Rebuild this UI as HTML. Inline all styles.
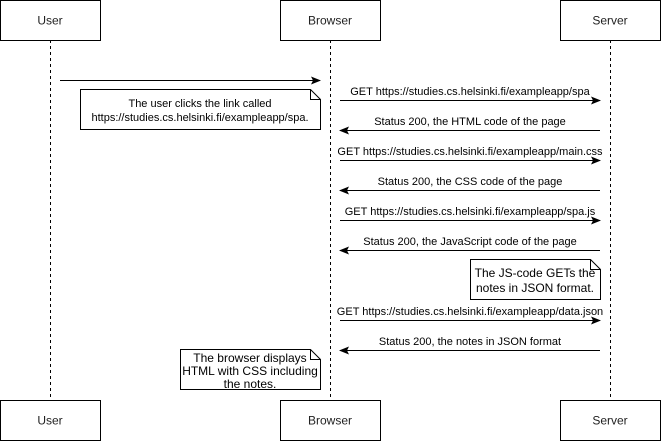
<!DOCTYPE html>
<html><head><meta charset="utf-8"><style>
html,body{margin:0;padding:0;background:#fff}
svg{display:block;font-family:"Liberation Sans",Arial,sans-serif}
</style></head><body>
<svg width="661" height="441" viewBox="0 0 661 441" xmlns="http://www.w3.org/2000/svg" font-family="Liberation Sans, Arial, sans-serif">
<defs>
<marker id="a" markerWidth="10" markerHeight="8" refX="9" refY="4" orient="auto" markerUnits="userSpaceOnUse">
<path d="M0,0 L10,4 L0,8 L2,4 Z" fill="#000"/>
</marker>
</defs>
<g stroke="#000" stroke-dasharray="3,3" stroke-width="1">
<line x1="50.5" y1="40" x2="50.5" y2="400"/>
<line x1="330.5" y1="40" x2="330.5" y2="400"/>
<line x1="610.5" y1="40" x2="610.5" y2="400"/>
</g>
<g fill="#fff" stroke="#000">
<rect x="0.5" y="0.5" width="100" height="40"/>
<rect x="280.5" y="0.5" width="100" height="40"/>
<rect x="560.5" y="0.5" width="100" height="40"/>
<rect x="0.5" y="400.5" width="100" height="40"/>
<rect x="280.5" y="400.5" width="100" height="40"/>
<rect x="560.5" y="400.5" width="100" height="40"/>
</g>
<g font-size="12" text-anchor="middle" font-family="Liberation Sans, Arial, sans-serif" fill="#222">
<text x="50" y="24.5">User</text><text x="330" y="24.5">Browser</text><text x="610" y="24.5">Server</text>
<text x="50" y="424.5">User</text><text x="330" y="424.5">Browser</text><text x="610" y="424.5">Server</text>
</g>
<g stroke="#000" stroke-width="1" marker-end="url(#a)">
<line x1="60" y1="80.5" x2="320" y2="80.5"/>
<line x1="340" y1="100.5" x2="600" y2="100.5"/>
<line x1="600" y1="130.5" x2="340" y2="130.5"/>
<line x1="340" y1="160.5" x2="600" y2="160.5"/>
<line x1="600" y1="190.5" x2="340" y2="190.5"/>
<line x1="340" y1="220.5" x2="600" y2="220.5"/>
<line x1="600" y1="250.5" x2="340" y2="250.5"/>
<line x1="340" y1="320.5" x2="600" y2="320.5"/>
<line x1="600" y1="350.5" x2="340" y2="350.5"/>
</g>
<g font-size="11" text-anchor="middle" font-family="Liberation Sans, Arial, sans-serif">
<text x="470" y="95">GET https://studies.cs.helsinki.fi/exampleapp/spa</text>
<text x="470" y="125">Status 200, the HTML code of the page</text>
<text x="470" y="155">GET https://studies.cs.helsinki.fi/exampleapp/main.css</text>
<text x="470" y="185">Status 200, the CSS code of the page</text>
<text x="470" y="215">GET https://studies.cs.helsinki.fi/exampleapp/spa.js</text>
<text x="470" y="245">Status 200, the JavaScript code of the page</text>
<text x="470" y="315">GET https://studies.cs.helsinki.fi/exampleapp/data.json</text>
<text x="470" y="345">Status 200, the notes in JSON format</text>
</g>
<g fill="#fff" stroke="#000">
<path d="M80.5,89.5 H310.5 L320.5,99.5 V129.5 H80.5 Z"/><path d="M310.5,89.5 V99.5 H320.5" fill="none"/>
<path d="M470.5,259.5 H590.5 L600.5,269.5 V299.5 H470.5 Z"/><path d="M590.5,259.5 V269.5 H600.5" fill="none"/>
<path d="M180.5,349.5 H310.5 L320.5,359.5 V389.5 H180.5 Z"/><path d="M310.5,349.5 V359.5 H320.5" fill="none"/>
</g>
<g font-size="11" text-anchor="middle" font-family="Liberation Sans, Arial, sans-serif">
<text x="200" y="107">The user clicks the link called</text>
<text x="200" y="121">https://studies.cs.helsinki.fi/exampleapp/spa.</text>
</g>
<g font-size="12" text-anchor="middle" font-family="Liberation Sans, Arial, sans-serif">
<text x="535" y="277">The JS-code GETs the</text>
<text x="535" y="292">notes in JSON format.</text>
<text x="250" y="362">The browser displays</text>
<text x="250" y="375">HTML with CSS including</text>
<text x="250" y="388">the notes.</text>
</g>
</svg>
</body></html>
